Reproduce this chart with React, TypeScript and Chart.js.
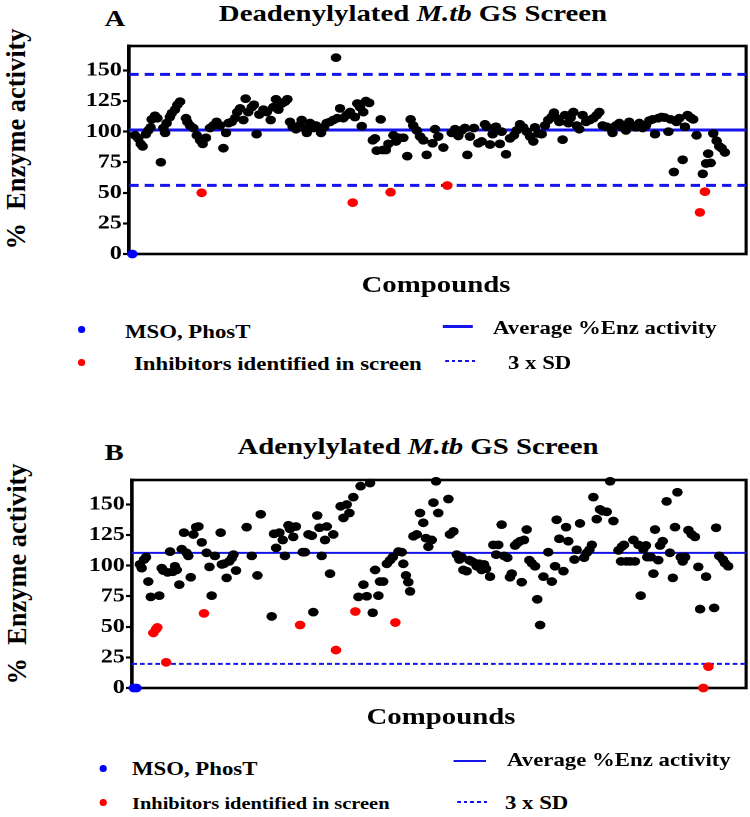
import React, { useEffect, useRef } from 'react';
import { Chart, registerables } from 'chart.js';

Chart.register(...registerables);

const FONT = "'Liberation Serif', 'Times New Roman', serif";
const STRETCH = 1.2; // the figure is drawn narrow and stretched horizontally

const Y_TICKS = [0, 25, 50, 75, 100, 125, 150];
const Y_MAX = 170;

// ---------- Panel A: Deadenylylated M.tb GS screen ----------
const A_MEAN = 101.3;
const A_SD_LINES = [146.8, 56.1];
const A_CONTROLS: [number, number][] = [[1.5, 0]];
const A_INHIBITORS: [number, number][] = [
  [33, 50], [101.7, 42], [118.9, 50.5], [144.7, 56], [259.5, 34], [261.8, 51],
];
const A_SCREEN: [number, number][] = [
  [2.7, 97], [4.2, 94.5], [5.3, 90], [6.2, 88], [7.7, 98], [8.8, 101], [9.8, 103.5], [10.3, 110],
  [11.8, 113], [12.9, 111], [14.5, 75], [15.6, 103], [16.4, 99], [17.1, 107], [18.6, 112], [19.4, 115],
  [20.9, 118], [22, 122], [23.2, 124.5], [25.9, 111], [26.5, 108], [27.7, 105], [29.2, 103], [30.8, 97],
  [32.3, 93], [33.5, 90], [35, 95], [36.8, 103], [38.3, 105], [39.8, 108], [41.4, 105], [42.9, 86.5],
  [44.1, 99], [45.2, 107], [46.7, 108], [48.2, 111], [49.2, 116], [50.5, 119], [52, 109.5], [53, 127],
  [54.2, 116], [55.8, 120], [56.8, 122], [58, 98], [59.2, 114], [61.1, 118], [62.6, 116], [64.4, 109.5],
  [65.6, 120], [66.8, 126.5], [67.9, 118], [69.4, 123], [70.9, 124.5], [72, 126.5], [73.2, 108], [74.4, 104],
  [75.9, 102], [77.4, 105], [78.5, 109.5], [79.5, 103], [80.8, 99], [82.3, 107], [83.8, 103], [85, 105],
  [86.1, 103.5], [87.3, 99], [88.6, 103.5], [89.8, 107], [91.4, 108], [92.9, 109.5], [94.1, 160.5], [94.7, 111],
  [95.9, 119], [97.4, 111], [98.9, 113.5], [100.5, 116], [102.7, 112], [103.8, 123], [105, 120], [105.8, 104.5],
  [106.5, 116], [107.7, 125], [109.2, 123.5], [110.8, 93], [111.8, 94.5], [112.6, 84.5], [114.4, 110], [115.3, 85],
  [116.8, 85], [117.9, 90], [120.2, 97], [121.4, 92], [122.9, 95], [124.7, 95], [126.5, 80], [128, 110],
  [129.2, 105], [130.8, 101], [132.3, 96], [133.8, 93], [135.3, 81], [138, 90.5], [139.1, 102], [140.6, 96],
  [142.9, 87], [146.7, 99], [148.2, 102], [149.7, 96.5], [151.2, 101], [152.7, 103], [153.8, 81], [155, 96],
  [156.8, 103], [158.8, 90.5], [160.3, 92], [161.8, 106], [162.6, 104], [164.1, 89.5], [165.3, 98], [166.8, 104],
  [168.6, 90], [169.4, 100], [171.4, 81.5], [173.2, 94.5], [175, 97], [176.2, 101], [177.7, 106], [179.2, 103.5],
  [180.8, 100], [182.3, 96], [183.8, 92], [184.5, 103.5], [186.1, 98.5], [187.6, 98], [189.1, 105], [190.6, 109.5],
  [192.1, 112], [193.2, 115.5], [194.4, 111], [195.6, 108], [197.1, 93.5], [198.2, 113.5], [199.7, 107], [200.8, 111.5],
  [202, 116], [203.5, 105], [204.7, 102], [206.2, 113.5], [207.7, 108], [209.5, 109.5], [211.1, 111], [212.6, 113.5],
  [213.8, 116], [215.3, 105], [217.1, 104], [218.6, 103], [219.8, 99], [221.4, 105], [222.9, 107], [224.4, 103.5],
  [225.9, 101], [227.4, 108], [228.9, 105], [230.5, 103.5], [232, 107], [233.5, 103], [235, 105], [236.5, 109],
  [238, 110], [239.1, 98], [240.6, 111], [242.1, 112], [243.6, 111.5], [245.2, 100], [246.2, 110], [247.7, 67],
  [248.9, 108], [250.2, 111], [251.7, 77], [252.7, 104], [253.9, 113.5], [255.3, 111.5], [256.5, 110], [258, 97],
  [260.8, 65.5], [262.3, 74], [263.3, 82], [264.4, 74.5], [265.6, 98.5], [267.1, 92.5], [268.3, 88], [269.4, 86.5],
  [270.9, 83],
];

// ---------- Panel B: Adenylylated M.tb GS screen ----------
const B_MEAN = 110.4;
const B_SD_LINES = [19.7];
const B_CONTROLS: [number, number][] = [[0.8, 0], [2, 0]];
const B_INHIBITORS: [number, number][] = [
  [9.7, 45], [10.9, 48], [11.5, 49.5], [15.5, 21], [32.7, 61], [76.4, 51.5], [92.7, 31],
  [101.5, 62.5], [119.7, 53.5], [259.7, 0], [262, 17.5],
];
const B_SCREEN: [number, number][] = [
  [3.6, 101], [4.4, 98], [5.5, 105], [6.4, 107], [7.4, 87], [8.5, 74.5], [12.4, 75.5], [13.5, 98],
  [14.2, 96], [16.2, 94.5], [17.3, 111.5], [18.5, 95], [19.5, 99.5], [20.3, 96.5], [21.5, 84.5], [22.6, 113.5],
  [23.6, 127], [24.8, 110.5], [25.6, 108], [26.7, 90.5], [27.9, 125.5], [29.1, 131.5], [30.2, 132], [31.7, 119],
  [33.9, 110.5], [35.2, 99], [36.2, 75.5], [37.7, 108], [40.3, 127], [40.8, 101], [41.8, 101.5], [43, 90],
  [44.2, 103.5], [45.3, 106], [46.1, 109], [47.3, 96], [52.1, 131.5], [54.4, 108], [57, 92], [58.5, 142],
  [63.5, 58.5], [64.5, 126], [65.5, 114.5], [67, 127], [68.5, 121], [69.5, 108], [71.1, 133], [71.8, 130],
  [73.3, 123.5], [74.5, 132], [77.6, 111], [78.6, 111], [80.2, 125.5], [81.7, 124.5], [82.4, 62], [84.2, 141],
  [85.2, 131], [86.2, 108], [87.7, 121], [88.5, 132], [90, 93.5], [91.5, 125.5], [94.8, 148.5], [96.1, 139],
  [97.6, 150], [98.8, 143], [100.6, 156], [102.9, 74.5], [103.9, 165], [105.2, 84.5], [106.7, 75], [108.2, 167.5],
  [109.4, 61.5], [110.5, 96.5], [112, 75.5], [112.7, 87], [114.2, 87], [115.8, 101.5], [117.3, 104.5], [118.5, 107],
  [121.1, 111.5], [122.6, 111], [123.3, 101.5], [124.5, 92], [125.6, 86.5], [126.4, 79], [127.9, 124], [129.4, 125.5],
  [130.9, 143], [132.4, 135], [133.6, 122.5], [134.7, 115.5], [136.2, 121], [137, 151.5], [138.2, 169], [139.2, 143],
  [143.8, 154.5], [144.5, 125.5], [146.1, 128], [147.6, 109], [148.8, 105], [149.8, 107], [150.6, 96.5], [152.1, 95.5],
  [153.3, 104.5], [154.4, 103.5], [155.9, 102], [156.7, 99.5], [157.9, 101.5], [158.9, 96.5], [160, 101], [160.9, 97.5],
  [162.7, 91], [164.2, 117], [165.5, 109], [166.5, 117], [168, 133.5], [169.1, 108], [170.6, 106.5], [171.8, 90.5],
  [172.6, 93.5], [174.1, 116.5], [175.2, 118.5], [176.4, 120], [177.1, 86.5], [178.2, 121], [179.4, 129.5], [180.6, 104.5],
  [181.7, 102], [183.2, 99.5], [184.2, 72.5], [185.5, 51.5], [187, 91], [189.2, 111], [190.8, 87], [192.3, 99.5],
  [193, 137.5], [194.2, 122], [196.1, 95.5], [197.3, 131.5], [198.3, 120], [201.1, 105], [202.1, 113], [203.6, 134.5],
  [205.5, 106.5], [206.7, 110.5], [207.9, 113], [209, 117], [209.7, 156], [211.2, 138], [212.7, 146], [213.9, 144.5],
  [215.8, 144], [217.3, 169], [218.8, 136.5], [221.1, 112.5], [222.3, 103.5], [222.6, 115.5], [223.6, 117], [224.8, 103.5],
  [226.4, 103.5], [227.9, 121], [228.6, 103.5], [230.2, 117], [231.2, 75.5], [232.4, 113.5], [233.6, 116.5], [234.2, 107],
  [235.8, 107], [237, 93.5], [237.7, 129.5], [239.2, 104.5], [240, 116.5], [241.2, 120], [243, 152.5], [244.5, 110.5],
  [245.8, 90], [246.8, 131.5], [247.9, 160], [249.4, 107], [250.3, 103.5], [251.4, 107], [252.9, 129], [254.4, 125.5],
  [255.9, 123.5], [257.4, 99], [258.2, 64.5], [260.9, 91], [264.6, 65.5], [265.5, 131], [266.9, 108], [268.5, 105],
  [269.5, 102], [271, 99.5],
];

const BLUE_LINE = 'rgb(20,20,235)';

const framePlugin = {
  id: 'frame',
  beforeDatasetsDraw(chart: any) {
    const { ctx, chartArea } = chart;
    const { left, top, right, bottom } = chartArea;
    ctx.save();
    ctx.strokeStyle = '#000';
    ctx.lineWidth = 2.6;
    ctx.strokeRect(left, top, right - left, bottom - top);
    ctx.restore();
  },
};

type PanelProps = {
  screen: [number, number][];
  inhibitors: [number, number][];
  controls: [number, number][];
  mean: number;
  sdLines: number[];
  xMax: number;
  top: number;
  height: number;
  padTop: number;
  padBottom: number;
  yWidth: number;
  meanWidth: number;
  sdWidth: number;
  sdDash: number[];
};

function Panel(p: PanelProps) {
  const ref = useRef<HTMLCanvasElement | null>(null);
  useEffect(() => {
    if (!ref.current) return;
    const toPts = (a: [number, number][]) => a.map(([x, y]) => ({ x, y }));
    const hLine = (v: number) => [{ x: 0, y: v }, { x: p.xMax, y: v }];
    const lineSets: any[] = [
      {
        data: hLine(p.mean), showLine: true, borderColor: BLUE_LINE, borderWidth: p.meanWidth,
        pointRadius: 0, order: 10, clip: false,
      },
      ...p.sdLines.map((v) => ({
        data: hLine(v), showLine: true, borderColor: BLUE_LINE, borderWidth: p.sdWidth,
        borderDash: p.sdDash, pointRadius: 0, order: 10, clip: false,
      })),
    ];
    const dot = (data: [number, number][], color: string, order: number) => ({
      data: toPts(data), backgroundColor: color, borderColor: color, pointRadius: 4.4,
      pointBorderWidth: 0, pointHoverRadius: 4.4, order, clip: false, showLine: false,
    });
    const chart = new Chart(ref.current, {
      type: 'scatter',
      data: {
        datasets: [
          ...lineSets,
          dot(p.screen, '#000000', 3),
          dot(p.inhibitors, 'rgb(255,0,0)', 2),
          dot(p.controls, 'rgb(0,0,255)', 1),
        ],
      },
      options: {
        animation: false,
        responsive: true,
        maintainAspectRatio: false,
        devicePixelRatio: 2,
        events: [],
        layout: { padding: { top: p.padTop, bottom: p.padBottom, left: 0, right: 3.3 }, autoPadding: false },
        plugins: { legend: { display: false }, tooltip: { enabled: false }, title: { display: false } },
        scales: {
          x: { type: 'linear', display: false, min: 0, max: p.xMax },
          y: {
            type: 'linear',
            min: 0,
            max: Y_MAX,
            afterFit: (s: any) => { s.width = p.yWidth; },
            afterBuildTicks: (s: any) => { s.ticks = Y_TICKS.map((v) => ({ value: v })); },
            ticks: { font: { family: FONT, size: 20, weight: 'bold' }, color: '#000', padding: 1 },
            grid: { drawOnChartArea: false, drawTicks: true, tickLength: 5, tickWidth: 2.2, tickColor: '#000' },
            border: { display: true, color: '#000', width: 2.6 },
          },
        },
      } as any,
      plugins: [framePlugin],
    });
    return () => chart.destroy();
  }, []);
  return (
    <div style={{ position: 'absolute', left: 0, top: p.top, width: 625, height: p.height }}>
      <canvas ref={ref} />
    </div>
  );
}

// text helper: x, y in reference (stretched) pixels
function Txt(props: { x: number; y: number; size: number; anchor?: 'left' | 'center'; children: React.ReactNode }) {
  const { x, y, size, anchor = 'center', children } = props;
  return (
    <div
      style={{
        position: 'absolute', left: x / STRETCH, top: y, fontFamily: FONT, fontWeight: 'bold',
        fontSize: size, lineHeight: 1, whiteSpace: 'pre', color: '#000',
        transform: anchor === 'center' ? 'translate(-50%,-50%)' : 'translate(0,-50%)',
      }}
    >
      {children}
    </div>
  );
}

function YLabel(props: { x: number; y: number }) {
  return (
    <div
      style={{
        position: 'absolute', left: props.x / STRETCH, top: props.y, fontFamily: FONT, fontWeight: 'bold',
        fontSize: 23, lineHeight: 1, whiteSpace: 'pre', color: '#000',
        transform: 'translate(-50%,-50%) rotate(-90deg) scaleX(1.15)',
      }}
    >
      {'%  Enzyme activity'}
    </div>
  );
}

function Dot(props: { x: number; y: number; color: string }) {
  const d = 7;
  return (
    <div
      style={{
        position: 'absolute', left: (props.x - d / 2) / STRETCH, top: props.y - d / 2,
        width: d / STRETCH, height: d, borderRadius: '50%', background: props.color,
      }}
    />
  );
}

function LegLine(props: { x: number; y: number; w: number; t: number; dotted?: boolean }) {
  return (
    <div
      style={{
        position: 'absolute', left: props.x / STRETCH, top: props.y - props.t / 2, width: props.w / STRETCH,
        height: props.t,
        background: props.dotted
          ? `repeating-linear-gradient(to right, ${BLUE_LINE} 0px, ${BLUE_LINE} 3px, transparent 3px, transparent 5.5px)`
          : BLUE_LINE,
      }}
    />
  );
}

export default function App() {
  return (
    <div
      style={{
        position: 'absolute', left: 0, top: 0, width: 625, height: 817, background: '#fff',
        transform: `scaleX(${STRETCH})`, transformOrigin: '0 0', overflow: 'hidden',
      }}
    >
      {/* Panel A */}
      <Txt x={115} y={18} size={24}>A</Txt>
      <Txt x={413} y={13} size={24}>
        Deadenylylated <i>M.tb</i> GS Screen
      </Txt>
      <YLabel x={15} y={139} />
      <Panel
        screen={A_SCREEN} inhibitors={A_INHIBITORS} controls={A_CONTROLS} mean={A_MEAN} sdLines={A_SD_LINES}
        xMax={280.5} top={0} height={300} padTop={46} padBottom={46} yWidth={107.5}
        meanWidth={3} sdWidth={3} sdDash={[8, 5]}
      />
      <Txt x={436} y={284} size={24}>Compounds</Txt>

      <Dot x={82} y={329} color="rgb(0,0,255)" />
      <Txt x={125} y={331} size={19} anchor="left">MSO, PhosT</Txt>
      <Dot x={82} y={362} color="rgb(255,0,0)" />
      <Txt x={134} y={363} size={19} anchor="left">Inhibitors identified in screen</Txt>
      <LegLine x={443} y={326} w={30} t={3} />
      <Txt x={493} y={327} size={19} anchor="left">Average %Enz activity</Txt>
      <LegLine x={445} y={361} w={32} t={2} dotted />
      <Txt x={508} y={362} size={19} anchor="left">3 x SD</Txt>

      {/* Panel B */}
      <Txt x={114} y={452} size={24}>B</Txt>
      <Txt x={418} y={446} size={24}>
        Adenylylated <i>M.tb</i> GS Screen
      </Txt>
      <YLabel x={17} y={574} />
      <Panel
        screen={B_SCREEN} inhibitors={B_INHIBITORS} controls={B_CONTROLS} mean={B_MEAN} sdLines={B_SD_LINES}
        xMax={279.1} top={420} height={300} padTop={60} padBottom={32} yWidth={110}
        meanWidth={2} sdWidth={2} sdDash={[4, 2.5]}
      />
      <Txt x={441} y={716} size={24}>Compounds</Txt>

      <Dot x={103} y={768} color="rgb(0,0,255)" />
      <Txt x={132} y={768} size={19} anchor="left">MSO, PhosT</Txt>
      <Dot x={103} y={802} color="rgb(255,0,0)" />
      <Txt x={132} y={803} size={17} anchor="left">Inhibitors identified in screen</Txt>
      <LegLine x={454} y={761} w={32} t={2.5} />
      <Txt x={507} y={759} size={19} anchor="left">Average %Enz activity</Txt>
      <LegLine x={457} y={802} w={31} t={2} dotted />
      <Txt x={505} y={802} size={19} anchor="left">3 x SD</Txt>
    </div>
  );
}
